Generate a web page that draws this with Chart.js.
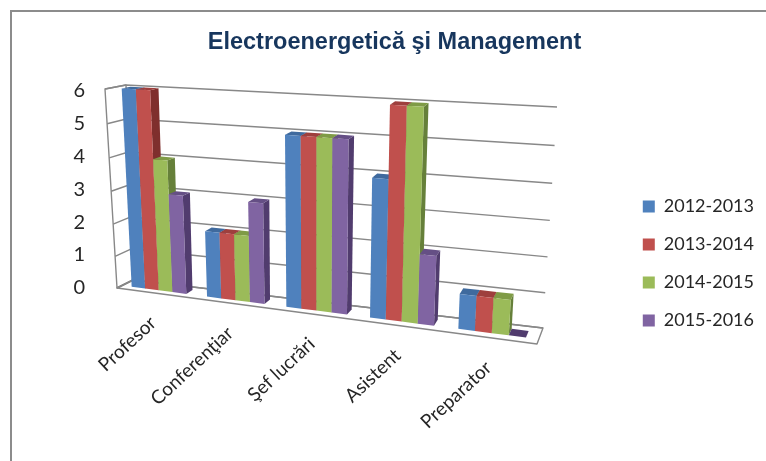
<!DOCTYPE html>
<html><head><meta charset="utf-8">
<style>html,body{margin:0;padding:0;background:#fff;overflow:hidden}#w{width:766px;height:461px;position:relative}</style>
<script src="https://cdn.jsdelivr.net/npm/chart.js@4"></script>
</head><body><div id="w"><canvas id="c" width="766" height="461"></canvas></div>
<script>
const categories = ["Profesor", "Conferenţiar", "Şef lucrări", "Asistent", "Preparator"];
const seriesNames = ["2012-2013", "2013-2014", "2014-2015", "2015-2016"];
const s2012 = [6, 2, 5, 4, 1];
const s2013 = [6, 2, 5, 6, 1];
const s2014 = [4, 2, 5, 6, 1];
const s2015 = [3, 3, 5, 2, 0];
const frontColors = ["#4F81BD", "#C0504D", "#9BBB59", "#8064A2"];
const sideColors  = ["#385D8A", "#7F2F2D", "#66803A", "#513C6E"];
const topColors   = ["#3F6A9E", "#9E3F3D", "#7F9B46", "#654F85"];
const gridColor = "#888888";
const textColor = "#262626";

// Perspective projection parameters (corners of the 3D box: [bottom-left, bottom-right, top-left, top-right])
const backPlane  = [[133,280],[543,328],[126,85],[557,107]];
const frontPlane = [[117,288],[537,344],[105,89],[551,118]];
const barDepthFront = 0.3, barDepthBack = 0.72;

function homography(q){ // unit square -> quad; (0,0)=q0,(1,0)=q1,(0,1)=q2,(1,1)=q3
  const [p0,p1,p2,p3]=q;
  const dx1=p1[0]-p3[0],dx2=p2[0]-p3[0],sx=p0[0]-p1[0]+p3[0]-p2[0];
  const dy1=p1[1]-p3[1],dy2=p2[1]-p3[1],sy=p0[1]-p1[1]+p3[1]-p2[1];
  const den=dx1*dy2-dx2*dy1;
  const g=(sx*dy2-dx2*sy)/den,h=(dx1*sy-sx*dy1)/den;
  const a=p1[0]-p0[0]+g*p1[0],b=p2[0]-p0[0]+h*p2[0],c=p0[0];
  const d=p1[1]-p0[1]+g*p1[1],e=p2[1]-p0[1]+h*p2[1],f=p0[1];
  return (s,t)=>{const w=g*s+h*t+1;return [(a*s+b*t+c)/w,(d*s+e*t+f)/w];};
}
const hBack=homography(backPlane), hFront=homography(frontPlane);
function project(s,t,d){ // d: 0 = front, 1 = back
  const A=hFront(s,t),B=hBack(s,t);
  return [A[0]+(B[0]-A[0])*d,A[1]+(B[1]-A[1])*d];
}
function poly(ctx,pts,fill,stroke){
  ctx.beginPath();pts.forEach((p,i)=>i?ctx.lineTo(p[0],p[1]):ctx.moveTo(p[0],p[1]));ctx.closePath();
  if(fill){ctx.fillStyle=fill;ctx.fill();}
  if(stroke){ctx.strokeStyle=stroke;ctx.stroke();}
}
// the bars keep their Chart.js scale geometry; they are painted re-projected, left series first
Chart.BarElement.prototype.draw=function(){};
function paintBar(ctx,el,i,ca){
  const p=el.getProps(['x','y','base','width'],true);
  const h=ca.bottom-ca.top, w=ca.right-ca.left;
  const s0=(p.x-p.width/2-ca.left)/w, s1=(p.x+p.width/2-ca.left)/w;
  const t0=(ca.bottom-p.base)/h, t1=(ca.bottom-p.y)/h;
  const df=barDepthFront, db=barDepthBack;
  poly(ctx,[project(s1,t0,df),project(s1,t0,db),project(s1,t1,db),project(s1,t1,df)],sideColors[i]);
  poly(ctx,[project(s0,t1,df),project(s1,t1,df),project(s1,t1,db),project(s0,t1,db)],t1>t0?topColors[i]:sideColors[i]);
  if(t1>t0) poly(ctx,[project(s0,t0,df),project(s1,t0,df),project(s1,t1,df),project(s0,t1,df)],frontColors[i]);
}
const box3d={
  id:'box3d',
  afterLayout(chart){ chart.legend.top+=45; chart.legend.bottom+=45; },
  beforeDatasetsDraw(chart){
    const ctx=chart.ctx, y=chart.scales.y, ca=chart.chartArea, h=ca.bottom-ca.top;
    ctx.save();
    ctx.fillStyle="#8C8C8C";ctx.fillRect(10,10,756,2);ctx.fillRect(10,10,2,451);
    ctx.lineWidth=1.4;ctx.strokeStyle=gridColor;ctx.lineJoin='round';
    poly(ctx,[project(0,0,0),project(1,0,0),project(1,0,1),project(0,0,1)],null,gridColor);
    poly(ctx,[project(0,0,0),project(0,1,0),project(0,1,1),project(0,0,1)],null,gridColor);
    y.ticks.forEach(tk=>{
      const t=(ca.bottom-y.getPixelForValue(tk.value))/h;
      const a=project(0,t,0),b=project(0,t,1),c=project(1,t,1);
      ctx.beginPath();ctx.moveTo(a[0],a[1]);ctx.lineTo(b[0],b[1]);ctx.lineTo(c[0],c[1]);ctx.stroke();
    });
    ctx.restore();
  },
  afterDatasetsDraw(chart){
    const ctx=chart.ctx, ca=chart.chartArea;
    ctx.save();
    chart.data.datasets.forEach((ds,i)=>chart.getDatasetMeta(i).data.forEach(el=>paintBar(ctx,el,i,ca)));
    ctx.restore();
  },
  afterDraw(chart){
    const ctx=chart.ctx,x=chart.scales.x,ca=chart.chartArea,w=ca.right-ca.left;
    ctx.save();
    ctx.font='19px Lato';ctx.fillStyle=textColor;ctx.textAlign='right';ctx.textBaseline='middle';
    x.getLabels().forEach((lab,i)=>{
      const s=(x.getPixelForTick(i)-ca.left)/w;
      const p=project(s,0,0);
      ctx.save();ctx.translate(p[0]-1,p[1]+27);ctx.rotate(-43*Math.PI/180);ctx.fillText(lab,0,0);ctx.restore();
    });
    ctx.restore();
  }
};
const allSeries=[s2012,s2013,s2014,s2015];
new Chart(document.getElementById('c'),{
  type:'bar',
  data:{labels:categories,datasets:seriesNames.map((n,i)=>({
    label:n,data:allSeries[i],backgroundColor:frontColors[i],borderWidth:0,
    categoryPercentage:0.73,barPercentage:1
  }))},
  options:{
    responsive:false,animation:false,devicePixelRatio:1,
    layout:{padding:{left:25,right:2,top:0,bottom:24}},
    plugins:{
      title:{display:true,text:"Electroenergetică şi Management",color:"#17365D",
        font:{family:"Liberation Sans",size:23.5,weight:'bold'},padding:{top:28,bottom:34}},
      legend:{position:'right',labels:{boxWidth:12,boxHeight:12,padding:20,color:textColor,font:{family:'Lato',size:18}}},
      tooltip:{enabled:false}
    },
    scales:{
      x:{grid:{display:false,drawTicks:false},border:{display:false},ticks:{display:false},afterFit(s){s.height=149;}},
      y:{min:0,max:6,grid:{display:false,drawTicks:false},border:{display:false},
        ticks:{stepSize:1,padding:10,color:textColor,font:{family:'Lato',size:20}},afterFit(s){s.width=70;}}
    }
  },
  plugins:[box3d]
});
</script></body></html>
